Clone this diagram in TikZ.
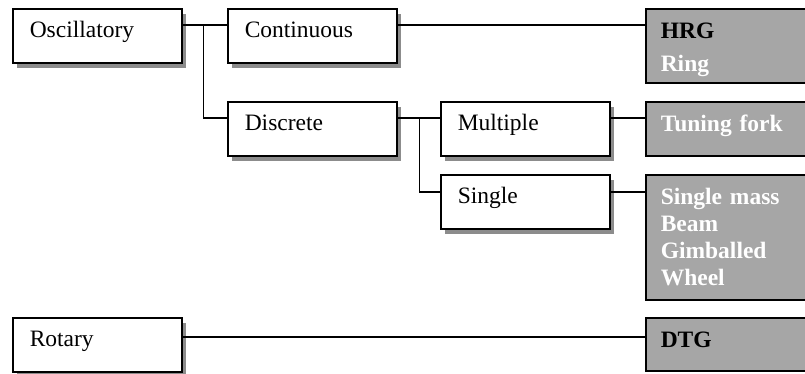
\documentclass[tikz,border=0pt]{standalone}
\usepackage{fontspec}
\setmainfont{Liberation Serif}
\usetikzlibrary{shadows}

\newcommand{\boxfont}{\fontsize{23.5bp}{27bp}\selectfont}

\tikzset{
  wbox/.style={draw, line width=1.5bp, fill=white, anchor=north west,
    align=left, text width=135bp, inner xsep=17bp, inner ysep=0pt,
    text height=29bp, text depth=25bp,
    drop shadow={shadow xshift=4bp, shadow yshift=-5bp, fill=black!45, opacity=1}},
  gbox/.style={draw, line width=1.5bp, fill=black!35, anchor=north west,
    align=left, text width=150bp, inner xsep=15bp, inner ysep=0pt,
    text height=30bp, font=\boxfont\bfseries, text=white},
  conn/.style={line width=1.4bp}
}

\begin{document}
\begin{tikzpicture}[x=1bp,y=-1bp,font=\boxfont]
  \clip (0,0) rectangle (805,373);

  % linke Spalte
  \node[wbox] (osc)  at (12,8)   {Oscillatory};
  \node[wbox] (rot)  at (12,317) {Rotary};

  % mittlere Spalten
  \node[wbox] (cont) at (227,8)   {Continuous};
  \node[wbox] (disc) at (227,101) {Discrete};
  \node[wbox] (mult) at (440,101) {Multiple};
  \node[wbox] (sing) at (440,174) {Single};

  % graue Kaesten rechts
  \node[gbox, text depth=44bp] (hrg)  at (645,8)   {\textcolor{black}{HRG}\\[6bp]Ring};
  \node[gbox, text depth=24bp] (fork) at (645,101) {Tuning fork};
  \node[gbox, text depth=95bp] (mass) at (645,174) {Single mass\\Beam\\Gimballed\\Wheel};
  \node[gbox, text depth=23bp, text=black] (dtg) at (645,317) {DTG};

  % Verbindungen
  \draw[conn] ([yshift=-17bp]osc.north east) -- ([yshift=-17bp]cont.north west);
  \draw[conn] ([yshift=-17bp]osc.north east) ++(21bp,0) |- ([yshift=-17bp]disc.north west);
  \draw[conn] ([yshift=-17bp]cont.north east) -- ([yshift=-17bp]hrg.north west);
  \draw[conn] ([yshift=-17bp]disc.north east) -- ([yshift=-17bp]mult.north west);
  \draw[conn] ([yshift=-17bp]disc.north east) ++(22bp,0) |- ([yshift=-18bp]sing.north west);
  \draw[conn] ([yshift=-17bp]mult.north east) -- ([yshift=-17bp]fork.north west);
  \draw[conn] ([yshift=-18bp]sing.north east) -- ([yshift=-18bp]mass.north west);
  \draw[conn] ([yshift=-20bp]rot.north east) -- ([yshift=-20bp]dtg.north west);
\end{tikzpicture}
\end{document}
